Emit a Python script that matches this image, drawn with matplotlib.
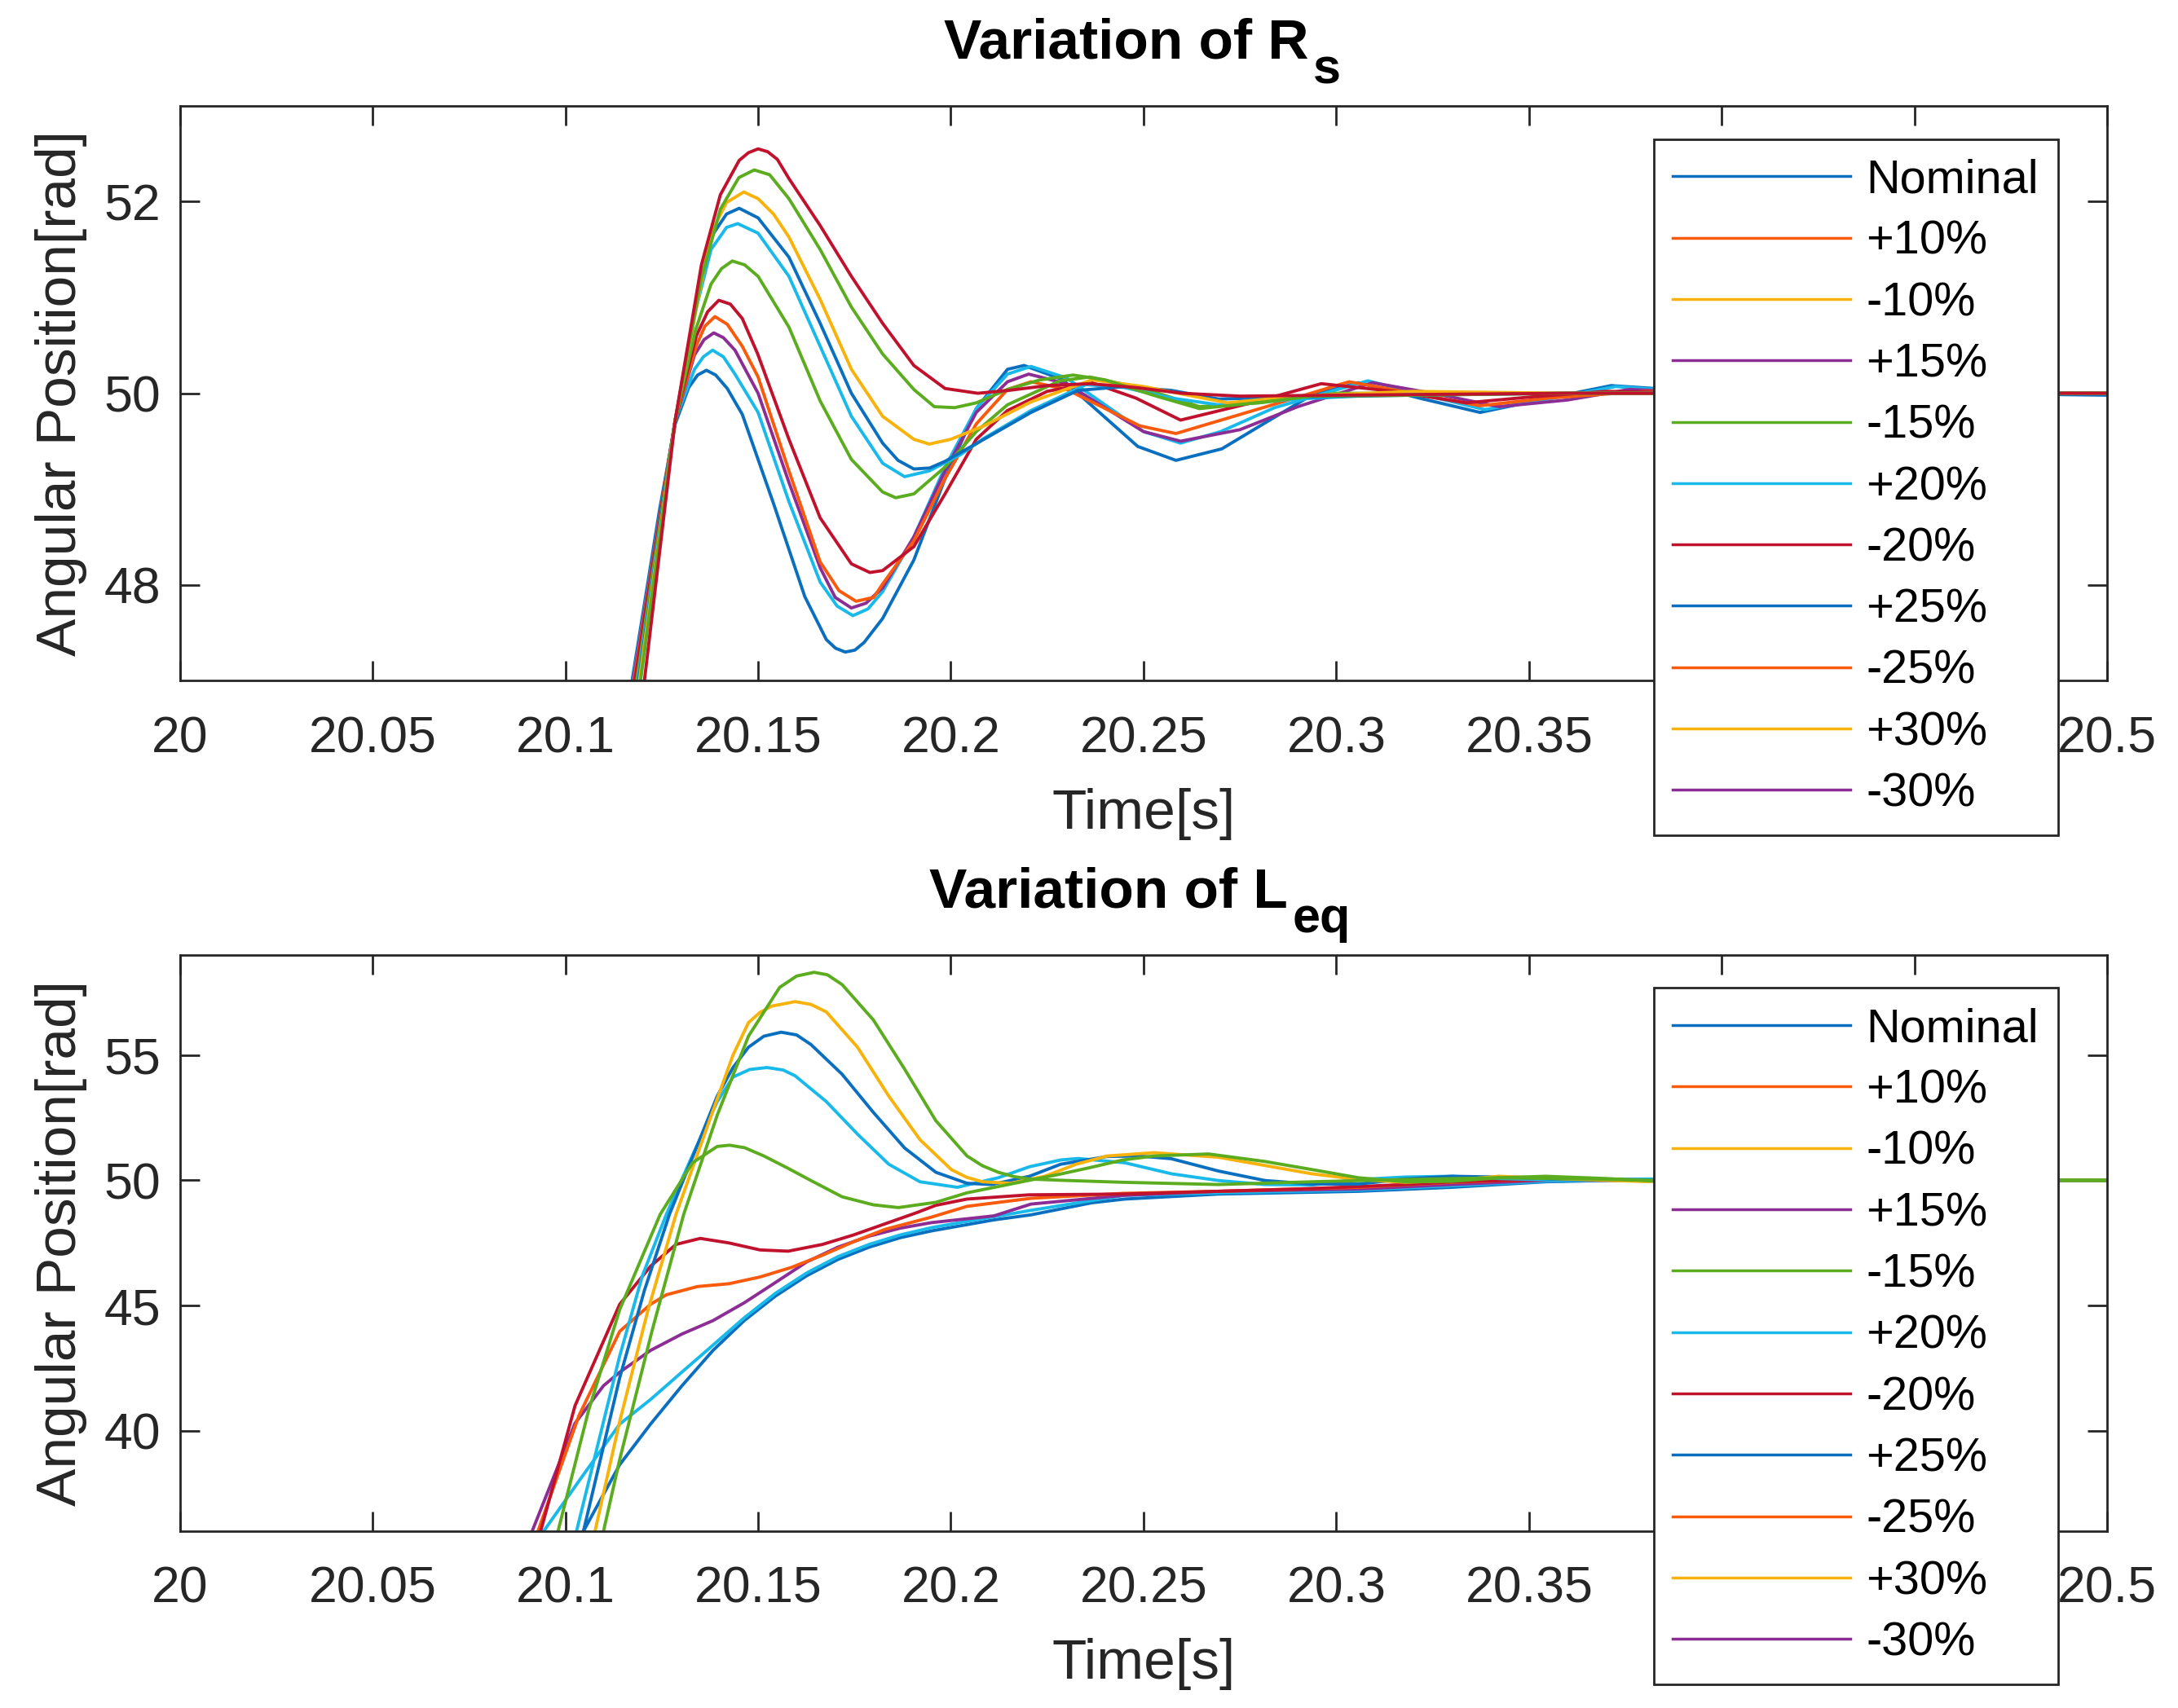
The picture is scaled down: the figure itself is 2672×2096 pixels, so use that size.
import matplotlib.pyplot as plt
from matplotlib.lines import Line2D

plt.rcParams['font.family'] = ['Liberation Sans', 'DejaVu Sans']

# ---- shared axis data ----
x_ticks = [20, 20.05, 20.1, 20.15, 20.2, 20.25, 20.3, 20.35, 20.4, 20.45, 20.5]
x_tick_labels = ['20', '20.05', '20.1', '20.15', '20.2', '20.25', '20.3',
                 '20.35', '20.4', '20.45', '20.5']
hidden_tick_labels = ['20.4', '20.45']   # covered by the legend in the original
rs_yticks = [48, 50, 52]
leq_yticks = [40, 45, 50, 55]
legend_labels = ['Nominal', '+10%', '-10%', '+15%', '-15%', '+20%', '-20%',
                 '+25%', '-25%', '+30%', '-30%']

# ---- top plot: variation of Rs (curves named by their colour) ----
rs_blue_lo_t = [20.112, 20.1173, 20.1245, 20.1285, 20.132, 20.1343, 20.1366, 20.139, 20.142,
                20.1459, 20.154, 20.1621, 20.1677, 20.1701, 20.1726, 20.1751, 20.1775, 20.1823,
                20.1904, 20.1985, 20.2066, 20.2147, 20.219, 20.2289, 20.2387, 20.2485, 20.2584,
                20.2703, 20.2821, 20.294, 20.3058, 20.3215, 20.3373, 20.354, 20.3713, 20.39,
                20.42, 20.46, 20.50]
rs_blue_lo_v = [45.4, 47.0, 48.8, 49.68, 50.06, 50.19, 50.24, 50.19, 50.05,
                49.78, 48.85, 47.88, 47.43, 47.34, 47.30, 47.32, 47.40, 47.65,
                48.26, 49.11, 49.84, 50.25, 50.29, 50.145, 49.795, 49.445, 49.30,
                49.42, 49.705, 49.99, 50.11, 49.95, 49.80, 49.94, 50.08, 50.03,
                49.97, 50.0, 49.98]

rs_cyan_lo_t = [20.112, 20.1175, 20.1285, 20.1335, 20.1358, 20.1382, 20.141, 20.144, 20.150,
                20.158, 20.1661, 20.1705, 20.1746, 20.1785, 20.1823, 20.1904, 20.1985, 20.2066,
                20.2147, 20.2208, 20.23, 20.24, 20.25, 20.2596, 20.27, 20.284, 20.3082, 20.323,
                20.3385, 20.355, 20.3725, 20.39, 20.42, 20.50]
rs_cyan_lo_v = [45.3, 47.0, 49.72, 50.25, 50.38, 50.45, 50.38, 50.2, 49.80,
                48.87, 48.03, 47.78, 47.68, 47.75, 47.93, 48.5, 49.23, 49.84,
                50.2, 50.28, 50.16, 49.88, 49.6, 49.48, 49.6, 49.85, 50.13, 49.98,
                49.83, 49.94, 50.07, 50.02, 49.98, 50.0]

rs_purple_t = [20.112, 20.1176, 20.1285, 20.1335, 20.136, 20.1385, 20.141, 20.144, 20.150,
               20.158, 20.1661, 20.170, 20.1742, 20.178, 20.1823, 20.1904, 20.1985, 20.2066,
               20.2147, 20.2202, 20.23, 20.24, 20.25, 20.2596, 20.275, 20.29, 20.3094, 20.325,
               20.3422, 20.36, 20.376, 20.40, 20.45, 20.50]
rs_purple_v = [45.3, 47.0, 49.72, 50.4, 50.56, 50.63, 50.58, 50.45, 50.0,
               49.07, 48.18, 47.87, 47.76, 47.81, 47.97, 48.5, 49.19, 49.8,
               50.12, 50.20, 50.10, 49.85, 49.6, 49.50, 49.62, 49.86, 50.11, 50.0,
               49.86, 49.93, 50.04, 50.0, 50.0, 50.0]

rs_orange_t = [20.112, 20.1178, 20.1285, 20.134, 20.1362, 20.1388, 20.142, 20.1459, 20.150,
               20.158, 20.1661, 20.171, 20.1754, 20.180, 20.1823, 20.1904, 20.1985, 20.2066,
               20.2147, 20.2208, 20.23, 20.2396, 20.249, 20.2584, 20.281, 20.3033, 20.32,
               20.3373, 20.355, 20.38, 20.42, 20.50]
rs_orange_v = [45.3, 47.0, 49.72, 50.5, 50.7, 50.80, 50.72, 50.49, 50.17,
               49.19, 48.24, 47.94, 47.83, 47.87, 48.01, 48.46, 49.11, 49.68,
               50.04, 50.12, 50.04, 49.85, 49.66, 49.58, 49.85, 50.12, 50.0,
               49.87, 49.95, 50.02, 50.0, 50.0]

rs_red_lo_t = [20.112, 20.118, 20.1285, 20.134, 20.1369, 20.1398, 20.1428, 20.1459, 20.1499,
               20.158, 20.1661, 20.1742, 20.179, 20.1823, 20.1904, 20.1985, 20.2066, 20.2147,
               20.225, 20.2366, 20.248, 20.2596, 20.278, 20.2961, 20.315, 20.3337, 20.35,
               20.37, 20.40, 20.45, 20.50]
rs_red_lo_v = [45.2, 47.0, 49.72, 50.6, 50.85, 50.97, 50.93, 50.78, 50.41,
               49.52, 48.7, 48.22, 48.13, 48.15, 48.4, 48.95, 49.52, 49.82,
               50.02, 50.11, 49.95, 49.72, 49.9, 50.10, 50.02, 49.90, 49.96,
               50.02, 50.0, 50.0, 50.0]

rs_green_lo_t = [20.112, 20.1185, 20.1285, 20.1337, 20.1378, 20.1405, 20.1433, 20.1465, 20.150,
                 20.158, 20.1661, 20.1742, 20.1823, 20.1857, 20.1904, 20.1985, 20.2066,
                 20.2147, 20.2283, 20.236, 20.25, 20.2645, 20.28, 20.30, 20.33, 20.36,
                 20.40, 20.50]
rs_green_lo_v = [45.1, 47.0, 49.72, 50.65, 51.14, 51.3, 51.38, 51.34, 51.22,
                 50.69, 49.92, 49.31, 48.97, 48.91, 48.95, 49.23, 49.6,
                 49.88, 50.13, 50.17, 50.05, 49.86, 49.9, 50.0, 50.0, 50.0,
                 50.0, 50.0]

rs_cyan_hi_t = [20.112, 20.1188, 20.1285, 20.1337, 20.1378, 20.1418, 20.1447, 20.150, 20.158,
                20.1661, 20.1742, 20.1823, 20.188, 20.1944, 20.2025, 20.2086, 20.2208, 20.235,
                20.245, 20.2572, 20.2694, 20.29, 20.32, 20.36, 20.40, 20.50]
rs_cyan_hi_v = [45.0, 47.0, 49.72, 50.85, 51.5, 51.73, 51.77, 51.67, 51.22,
                50.49, 49.76, 49.27, 49.13, 49.19, 49.36, 49.53, 49.82, 50.09,
                50.06, 49.95, 49.88, 49.94, 50.0, 50.0, 50.0, 50.0]

rs_blue_hi_t = [20.112, 20.119, 20.1285, 20.1337, 20.1378, 20.1418, 20.1451, 20.150, 20.158,
                20.1661, 20.1742, 20.1823, 20.1863, 20.1904, 20.1945, 20.1985, 20.2086, 20.2208,
                20.233, 20.2451, 20.2572, 20.2694, 20.29, 20.32, 20.36, 20.40, 20.50]
rs_blue_hi_v = [45.0, 47.0, 49.72, 50.9, 51.63, 51.87, 51.93, 51.83, 51.42,
                50.73, 50.0, 49.48, 49.3, 49.21, 49.22, 49.29, 49.52, 49.8,
                50.03, 50.07, 50.03, 49.94, 49.96, 49.98, 50.0, 50.0, 50.0]

rs_yellow_t = [20.112, 20.1192, 20.1285, 20.1338, 20.1378, 20.1418, 20.1463, 20.150, 20.154,
               20.158, 20.1661, 20.1742, 20.1823, 20.1904, 20.1944, 20.200, 20.2086, 20.2208,
               20.2366, 20.25, 20.2718, 20.29, 20.32, 20.36, 20.40, 20.50]
rs_yellow_v = [44.9, 47.0, 49.72, 50.85, 51.67, 51.99, 52.10, 52.03, 51.87,
               51.63, 50.98, 50.25, 49.76, 49.52, 49.47, 49.52, 49.66, 49.91,
               50.14, 50.07, 49.90, 49.97, 50.02, 50.0, 50.0, 50.0]

rs_green_hi_t = [20.112, 20.1195, 20.1285, 20.1353, 20.1402, 20.145, 20.149, 20.153, 20.158,
                 20.1661, 20.1742, 20.1823, 20.1904, 20.1957, 20.201, 20.2066, 20.2147,
                 20.2232, 20.2317, 20.24, 20.2525, 20.2645, 20.2815, 20.2936, 20.32, 20.36,
                 20.40, 20.45, 20.50]
rs_green_hi_v = [44.8, 47.0, 49.72, 51.2, 51.92, 52.25, 52.33, 52.28, 52.03,
                 51.5, 50.9, 50.41, 50.04, 49.86, 49.85, 49.9, 50.04,
                 50.14, 50.19, 50.14, 49.98, 49.84, 49.91, 49.97, 49.98, 50.0,
                 50.0, 50.0, 50.0]

rs_red_hi_t = [20.112, 20.1205, 20.1285, 20.1353, 20.1402, 20.1451, 20.1475, 20.150, 20.1525,
               20.155, 20.158, 20.1661, 20.1742, 20.1823, 20.1904, 20.1985, 20.207, 20.215,
               20.225, 20.236, 20.248, 20.26, 20.275, 20.30, 20.33, 20.36, 20.40, 20.45,
               20.50]
rs_red_hi_v = [44.5, 47.0, 49.72, 51.34, 52.07, 52.43, 52.51, 52.55, 52.52,
               52.44, 52.24, 51.75, 51.22, 50.73, 50.29, 50.05, 50.0, 50.03,
               50.08, 50.1, 50.06, 50.0, 49.97, 49.98, 49.99, 50.0, 50.0, 50.0,
               50.0]

# ---- bottom plot: variation of Leq ----
leq_blue_lo_t = [20.1047, 20.1141, 20.1221, 20.1302, 20.1383, 20.1464, 20.1545, 20.1626,
                 20.1707, 20.1788, 20.1869, 20.195, 20.2031, 20.2112, 20.2208, 20.2365,
                 20.2451, 20.2694, 20.3058, 20.33, 20.3543, 20.3823, 20.42, 20.50]
leq_blue_lo_v = [36.0, 38.65, 40.27, 41.79, 43.21, 44.40, 45.38, 46.19,
                 46.84, 47.33, 47.71, 47.98, 48.2, 48.42, 48.62, 49.1,
                 49.25, 49.45, 49.56, 49.72, 49.94, 50.03, 50.0, 50.0]

leq_cyan_lo_t = [20.0944, 20.104, 20.1141, 20.1221, 20.1302, 20.1383, 20.1464, 20.1545,
                 20.1626, 20.1707, 20.1788, 20.1869, 20.195, 20.2031, 20.2208, 20.245,
                 20.2694, 20.3058, 20.33, 20.3543, 20.38, 20.42, 20.50]
leq_cyan_lo_v = [36.0, 38.1, 40.27, 41.25, 42.34, 43.42, 44.51, 45.49,
                 46.30, 46.95, 47.44, 47.82, 48.11, 48.33, 48.8, 49.4,
                 49.5, 49.61, 49.78, 49.96, 50.02, 50.0, 50.0]

leq_purple_t = [20.0914, 20.1025, 20.1099, 20.1141, 20.1221, 20.1302, 20.1383, 20.1464,
                20.1545, 20.1626, 20.1707, 20.1788, 20.1869, 20.195, 20.2112, 20.2208,
                20.245, 20.2694, 20.3058, 20.33, 20.3543, 20.38, 20.42, 20.50]
leq_purple_v = [36.0, 40.3, 41.8, 42.34, 43.21, 43.86, 44.40, 45.11,
                45.92, 46.74, 47.33, 47.77, 48.09, 48.31, 48.58, 49.05,
                49.40, 49.56, 49.65, 49.83, 50.0, 50.0, 50.0, 50.0]

leq_orange_t = [20.0929, 20.1035, 20.1141, 20.1221, 20.1262, 20.1343, 20.1424, 20.1505,
                20.1586, 20.1667, 20.1748, 20.1829, 20.195, 20.2042, 20.2208, 20.245,
                20.2694, 20.3058, 20.33, 20.3543, 20.38, 20.42, 20.50]
leq_orange_v = [36.0, 40.6, 43.97, 45.05, 45.43, 45.76, 45.87, 46.14,
                46.52, 47.01, 47.55, 48.04, 48.53, 48.96, 49.28, 49.48,
                49.56, 49.72, 49.92, 50.03, 50.02, 50.0, 50.0]

leq_red_t = [20.0936, 20.1025, 20.1141, 20.1221, 20.1287, 20.135, 20.1424, 20.1505,
             20.1578, 20.1667, 20.1748, 20.1829, 20.191, 20.1961, 20.2042, 20.2204,
             20.245, 20.2694, 20.2936, 20.3179, 20.33, 20.3543, 20.38, 20.42, 20.50]
leq_red_v = [36.0, 41.0, 45.05, 46.57, 47.44, 47.68, 47.5, 47.22,
             47.17, 47.44, 47.82, 48.26, 48.7, 49.0, 49.25, 49.42,
             49.45, 49.56, 49.67, 49.83, 49.94, 50.03, 50.03, 50.0, 50.0]

leq_cyan_hi_t = [20.1029, 20.1141, 20.12, 20.1262, 20.133, 20.1394, 20.1435, 20.1478,
                 20.1523, 20.1565, 20.1596, 20.1677, 20.1758, 20.1839, 20.192, 20.2017,
                 20.2123, 20.2204, 20.2285, 20.233, 20.2451, 20.2572, 20.2694, 20.2815,
                 20.2936, 20.3058, 20.3179, 20.33, 20.3422, 20.36, 20.38, 20.42, 20.50]
leq_cyan_hi_v = [36.0, 42.99, 46.2, 48.64, 51.0, 53.14, 54.12, 54.42,
                 54.5, 54.4, 54.17, 53.14, 51.84, 50.64, 49.94, 49.72,
                 50.1, 50.54, 50.81, 50.87, 50.70, 50.26, 49.99, 49.83,
                 49.81, 50.03, 50.13, 50.16, 50.07, 49.99, 50.05, 50.0, 50.0]

leq_blue_hi_t = [20.1047, 20.1141, 20.1205, 20.127, 20.1394, 20.1435, 20.1475, 20.1515,
                 20.156, 20.16, 20.1637, 20.1718, 20.1799, 20.188, 20.1961, 20.2042,
                 20.2106, 20.2204, 20.2285, 20.2406, 20.2487, 20.2572, 20.2694, 20.2815,
                 20.2936, 20.3058, 20.3179, 20.33, 20.345, 20.36, 20.38, 20.42, 20.50]
leq_blue_hi_v = [36.0, 42.12, 45.6, 48.64, 53.36, 54.5, 55.31, 55.75,
                 55.91, 55.8, 55.42, 54.23, 52.71, 51.29, 50.32, 49.88,
                 49.83, 50.16, 50.64, 50.95, 50.97, 50.86, 50.37, 49.99,
                 49.85, 49.85, 50.05, 50.16, 50.12, 50.03, 50.0, 50.0, 50.0]

leq_yellow_t = [20.1077, 20.1141, 20.1214, 20.1287, 20.1394, 20.1435, 20.1475, 20.1505,
                20.1535, 20.1596, 20.1637, 20.1677, 20.1758, 20.1839, 20.192, 20.2001,
                20.2041, 20.2082, 20.2155, 20.2244, 20.2325, 20.2406, 20.2527, 20.2694,
                20.2815, 20.2936, 20.3058, 20.3179, 20.33, 20.3422, 20.36, 20.38, 20.42,
                20.50]
leq_yellow_v = [36.0, 40.38, 44.8, 48.64, 53.25, 55.0, 56.29, 56.7,
                56.95, 57.13, 57.02, 56.72, 55.31, 53.36, 51.62, 50.43,
                50.12, 49.94, 49.88, 50.16, 50.64, 50.97, 51.1, 50.92,
                50.59, 50.26, 50.03, 49.92, 49.99, 50.16, 50.05, 49.95, 50.0,
                50.0]

leq_green_lo_t = [20.0981, 20.106, 20.1141, 20.1246, 20.133, 20.1394, 20.1426, 20.1465,
                  20.1515, 20.1575, 20.1637, 20.1718, 20.1799, 20.1864, 20.1961, 20.2042,
                  20.2123, 20.2204, 20.2285, 20.2365, 20.2446, 20.2527, 20.2669, 20.2815,
                  20.2936, 20.3058, 20.3179, 20.33, 20.3422, 20.3543, 20.37, 20.385,
                  20.42, 20.50]
leq_green_lo_v = [36.0, 40.8, 44.84, 48.64, 50.7, 51.35, 51.40, 51.3,
                  50.97, 50.5, 49.99, 49.34, 49.02, 48.91, 49.12, 49.5,
                  49.75, 50.0, 50.25, 50.52, 50.81, 50.97, 51.05, 50.75,
                  50.43, 50.10, 49.94, 49.96, 50.10, 50.16, 50.07, 49.95,
                  50.0, 50.0]

leq_green_hi_t = [20.1099, 20.1141, 20.1225, 20.1307, 20.1394, 20.1475, 20.1556, 20.160,
                  20.1645, 20.168, 20.1718, 20.1799, 20.188, 20.1961, 20.2042, 20.2082,
                  20.2123, 20.2163, 20.2204, 20.2285, 20.2446, 20.2694, 20.2936, 20.3179,
                  20.3422, 20.3665, 20.39, 20.43, 20.50]
leq_green_hi_v = [36.0, 38.86, 44.0, 48.64, 52.6, 55.75, 57.7, 58.15,
                  58.30, 58.2, 57.81, 56.4, 54.44, 52.38, 50.97, 50.58,
                  50.32, 50.15, 50.05, 50.0, 49.92, 49.83, 49.94, 50.03,
                  50.1, 50.05, 49.97, 50.0, 50.0]

# ---- colours (MATLAB-like palette as it appears in the picture) ----
BLUE = '#0B6FBF'
ORANGE = '#F95A0C'
YELLOW = '#F8B20C'
PURPLE = '#8C2C95'
GREEN = '#5BAC1F'
CYAN = '#19B9EA'
RED = '#C0122D'
legend_colors = [BLUE, ORANGE, YELLOW, PURPLE, GREEN, CYAN, RED,
                 BLUE, ORANGE, YELLOW, PURPLE]
DARK = '#262626'
LW = 2.8

rs_curves = [
    (rs_blue_lo_t, rs_blue_lo_v, BLUE),
    (rs_cyan_lo_t, rs_cyan_lo_v, CYAN),
    (rs_purple_t, rs_purple_v, PURPLE),
    (rs_orange_t, rs_orange_v, ORANGE),
    (rs_red_lo_t, rs_red_lo_v, RED),
    (rs_green_lo_t, rs_green_lo_v, GREEN),
    (rs_cyan_hi_t, rs_cyan_hi_v, CYAN),
    (rs_blue_hi_t, rs_blue_hi_v, BLUE),
    (rs_yellow_t, rs_yellow_v, YELLOW),
    (rs_green_hi_t, rs_green_hi_v, GREEN),
    (rs_red_hi_t, rs_red_hi_v, RED),
]
leq_curves = [
    (leq_blue_lo_t, leq_blue_lo_v, BLUE),
    (leq_cyan_lo_t, leq_cyan_lo_v, CYAN),
    (leq_purple_t, leq_purple_v, PURPLE),
    (leq_orange_t, leq_orange_v, ORANGE),
    (leq_red_t, leq_red_v, RED),
    (leq_cyan_hi_t, leq_cyan_hi_v, CYAN),
    (leq_blue_hi_t, leq_blue_hi_v, BLUE),
    (leq_yellow_t, leq_yellow_v, YELLOW),
    (leq_green_lo_t, leq_green_lo_v, GREEN),
    (leq_green_hi_t, leq_green_hi_v, GREEN),
]


def draw_panel(ax, curves, ylim, yticks, title_main, title_sub, title_x, legend_top):
    for t, v, c in curves:
        ax.plot(t, v, color=c, lw=LW, solid_joinstyle='round')
    ax.set_xlim(20, 20.5)
    ax.set_ylim(*ylim)
    ax.set_xticks(x_ticks)
    ax.set_xticklabels(x_tick_labels)
    for lab in ax.get_xticklabels():
        if lab.get_text() in hidden_tick_labels:
            lab.set_visible(False)
    ax.set_yticks(yticks)
    ax.tick_params(direction='in', length=17, width=2, top=True, right=True,
                   labelsize=45, colors=DARK)
    ax.tick_params(axis='x', pad=30)
    ax.tick_params(axis='y', pad=17)
    for s in ax.spines.values():
        s.set_linewidth(2)
        s.set_color(DARK)

    ax.set_xlabel('Time[s]', fontsize=50, color=DARK)
    ax.xaxis.set_label_coords(0.5, -0.186)
    ax.set_ylabel('Angular Position[rad]', fontsize=50, color=DARK)
    ax.yaxis.set_label_coords(-0.048, 0.5)

    title = ax.set_title(title_main, fontsize=50, fontweight='bold', pad=42, x=title_x)
    ax.annotate(title_sub, xy=(1, 0), xycoords=title, xytext=(4, -12),
                textcoords='offset points', fontsize=44, fontweight='bold',
                ha='left', va='baseline')

    handles = [Line2D([], [], color=c, lw=2.5) for c in legend_colors]
    leg = ax.legend(handles, legend_labels, loc='upper left',
                    bbox_to_anchor=(0.7647, legend_top), borderaxespad=0,
                    fontsize=41.5, handlelength=3.78, handletextpad=0.335,
                    labelspacing=0.37, borderpad=0.41, fancybox=False,
                    framealpha=1, edgecolor=DARK)
    leg.get_frame().set_linewidth(2)


fig = plt.figure(figsize=(26.72, 20.96), dpi=100)
ax1 = fig.add_axes([0.0826, 0.6014, 0.8849, 0.3367])
ax2 = fig.add_axes([0.0826, 0.1036, 0.8849, 0.3374])

draw_panel(ax1, rs_curves, (47, 53), rs_yticks, 'Variation of R', 's', 0.491, 0.9419)
draw_panel(ax2, leq_curves, (36, 59), leq_yticks, 'Variation of L', 'eq', 0.482, 0.9423)

fig.savefig('out.png', dpi=100)
